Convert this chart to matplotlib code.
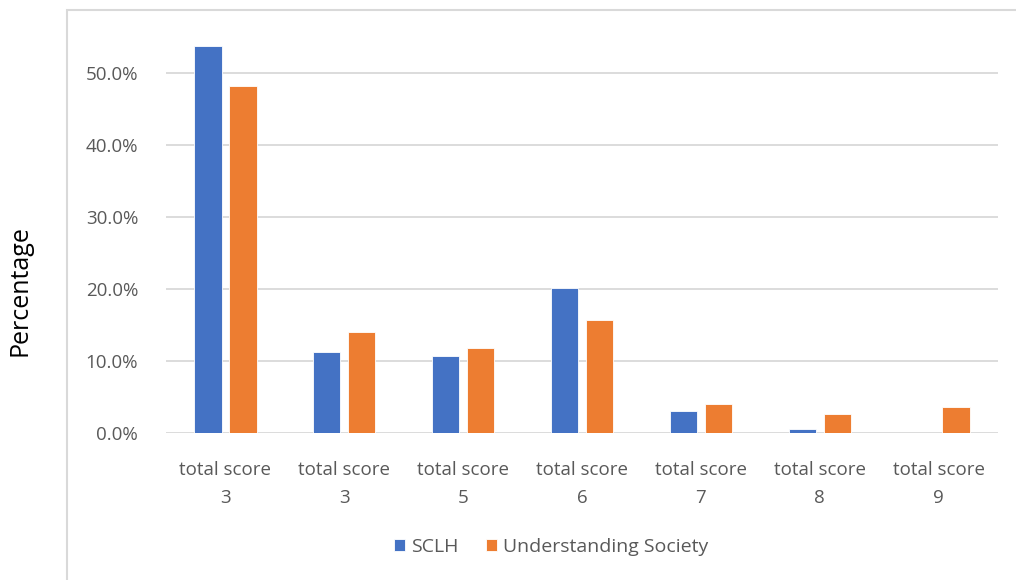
import numpy as np
import matplotlib.pyplot as plt
from matplotlib.patches import Rectangle
from matplotlib.ticker import PercentFormatter

plt.rcParams['font.family'] = ['Open Sans', 'DejaVu Sans']

categories = ['total score\n3', 'total score\n3', 'total score\n5', 'total score\n6',
              'total score\n7', 'total score\n8', 'total score\n9']
sclh = [53.8, 11.3, 10.7, 20.2, 3.1, 0.6, 0.0]
usoc = [48.2, 14.0, 11.8, 15.7, 4.1, 2.7, 3.6]

fig = plt.figure(figsize=(10.16, 5.8), dpi=100)
ax = fig.add_axes([166/1016, 1 - 433/580, 832/1016, 418/580])

# chart frame like the Excel chart area
fig.patches.append(Rectangle((67/1016, -0.1), 1.2, 1 - 10/580 + 0.1, transform=fig.transFigure,
                             fill=False, edgecolor='#d9d9d9', lw=1.5))

x = np.arange(len(categories))
ax.bar(x - 0.147, sclh, 0.23, color='#4472C4', edgecolor='white', lw=0.6, label='SCLH', zorder=3)
ax.bar(x + 0.147, usoc, 0.23, color='#ED7D31', edgecolor='white', lw=0.6,
       label='Understanding Society', zorder=3)

ax.set_xlim(-0.5, len(categories) - 0.5)
ax.set_ylim(0, 58.1)
ax.set_yticks([0, 10, 20, 30, 40, 50])
ax.yaxis.set_major_formatter(PercentFormatter(decimals=1))
ax.grid(axis='y', color='#d9d9d9', lw=1.3, zorder=0)
for s in ax.spines.values():
    s.set_visible(False)
ax.tick_params(length=0, labelsize=13.5, labelcolor='#595959')
ax.tick_params(axis='y', pad=20)
ax.tick_params(axis='x', pad=20)
ax.set_xticks(x)
ax.set_xticklabels(categories, linespacing=1.75)

fig.text(20/1016, 1 - 291/580, 'Percentage', rotation=90, ha='center', va='center',
         fontsize=18, color='black')

fig.legend(loc='center', bbox_to_anchor=(551/1016, 1 - 547/580), ncol=2, frameon=False,
           fontsize=14, labelcolor='#595959', handlelength=0.6, handleheight=0.6,
           handletextpad=0.3, columnspacing=1.4)

fig.savefig('out.png', dpi=100)
